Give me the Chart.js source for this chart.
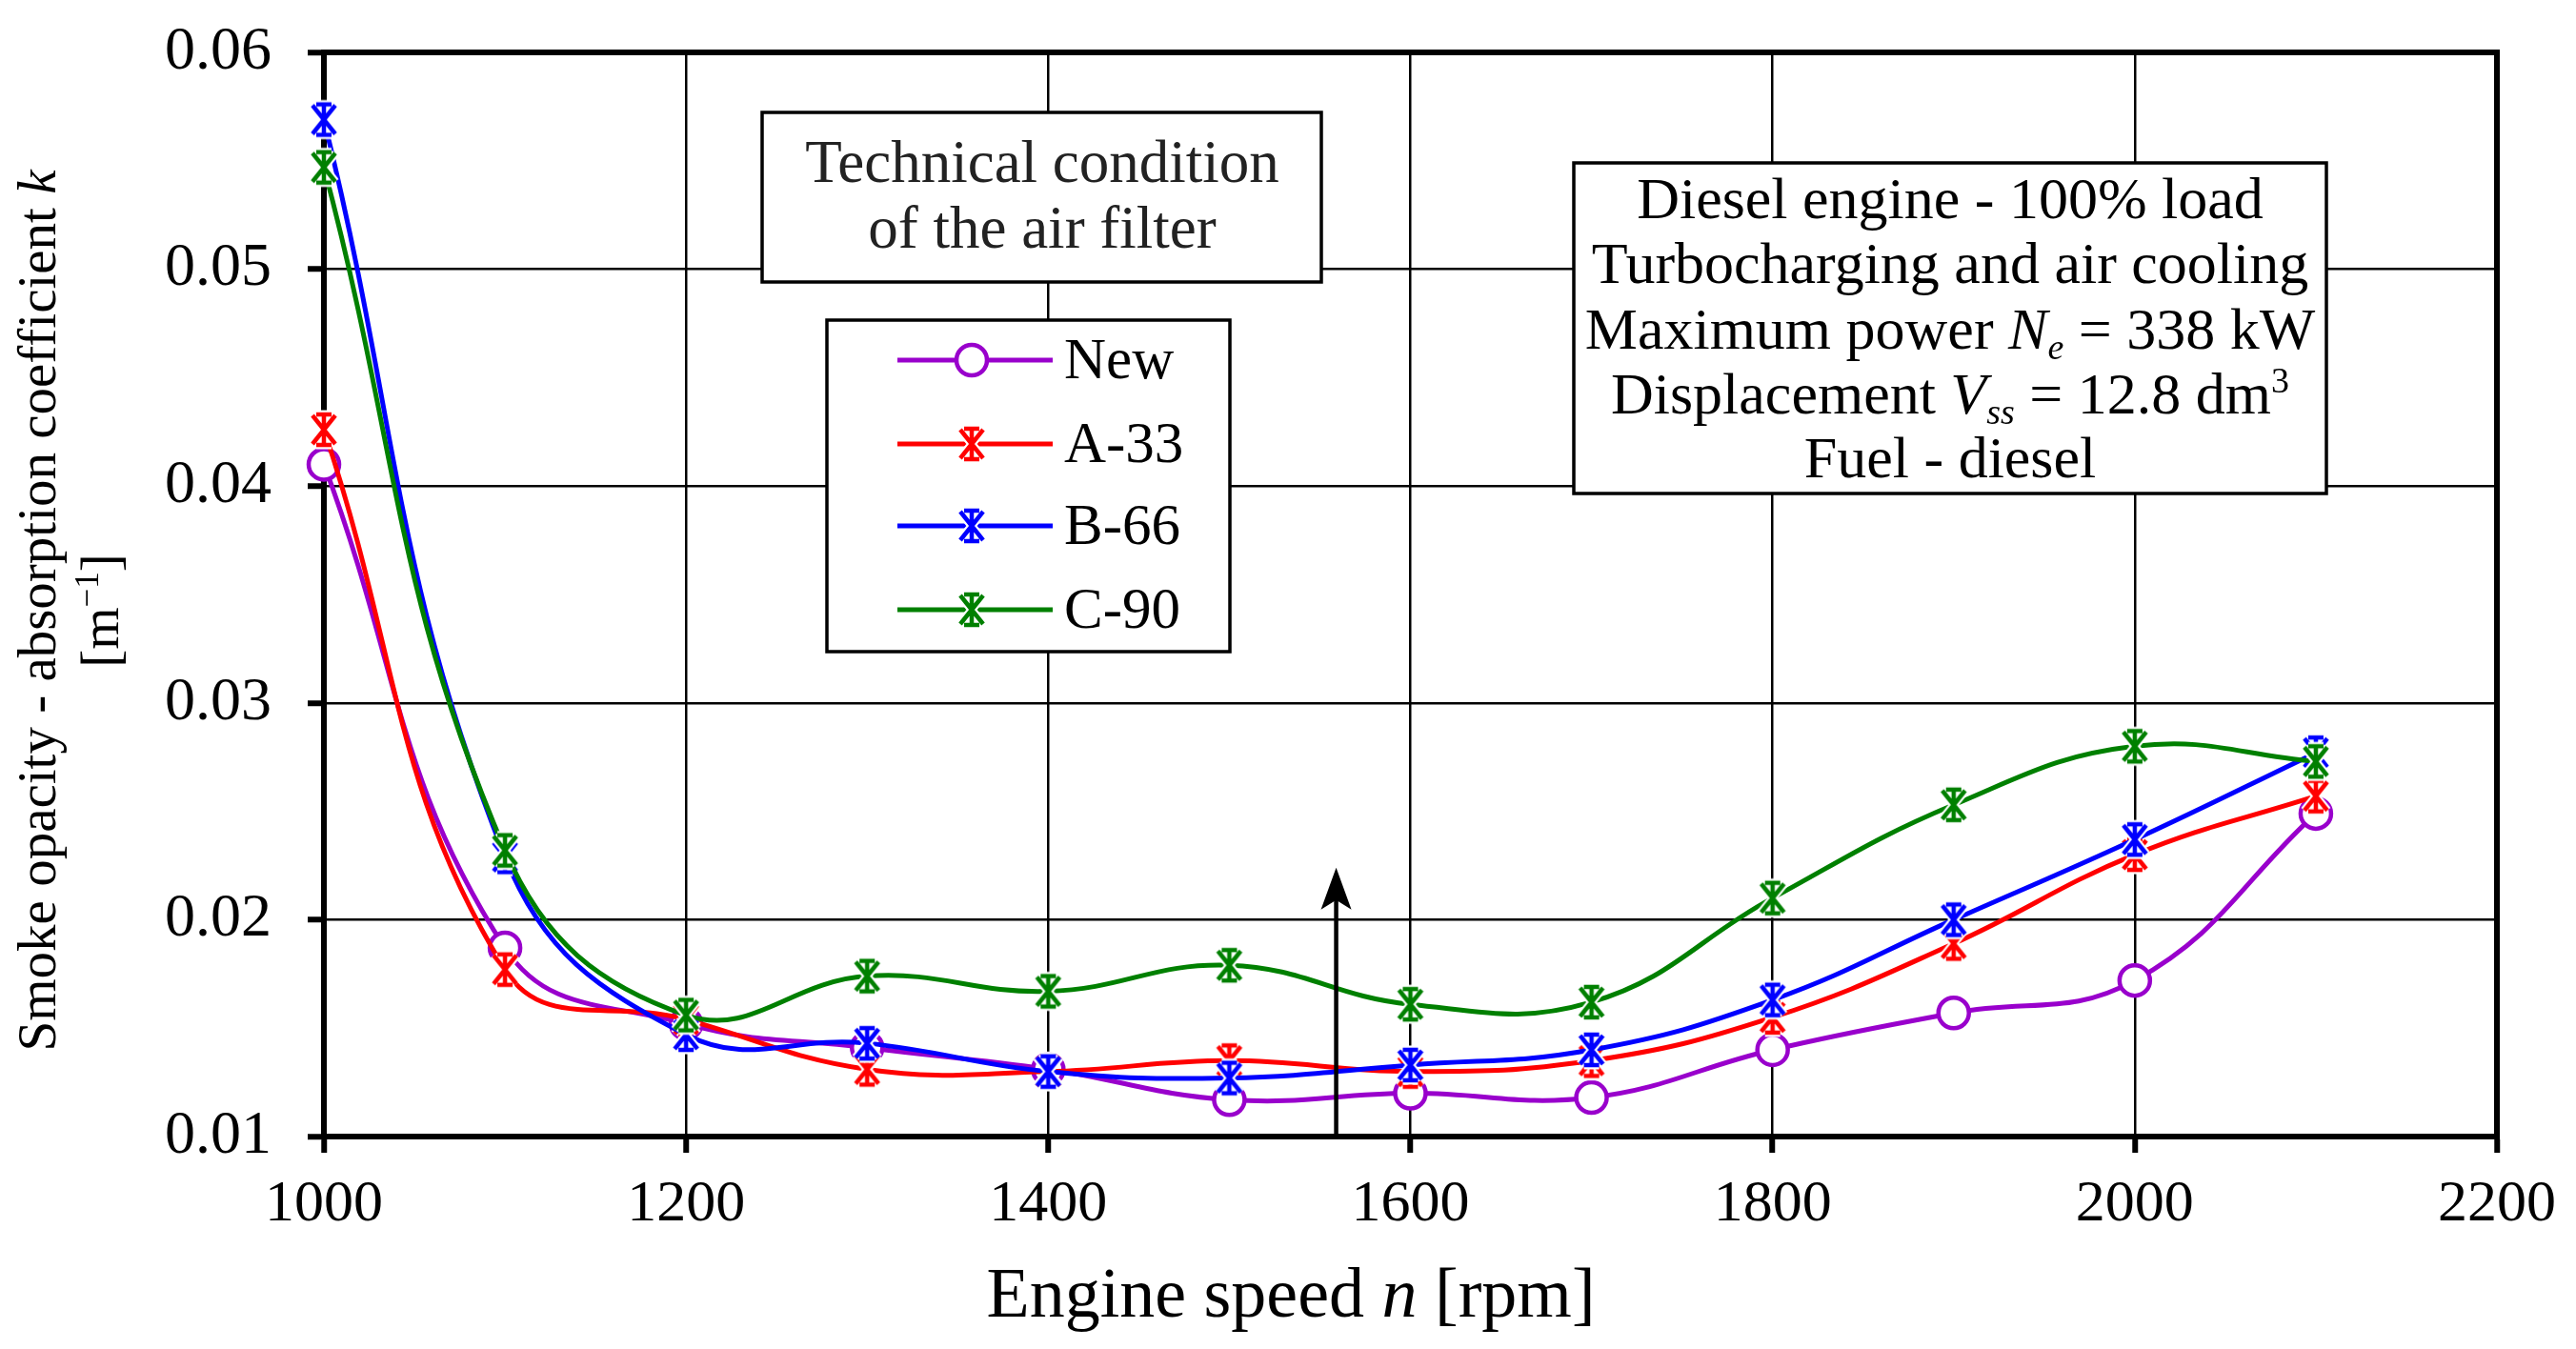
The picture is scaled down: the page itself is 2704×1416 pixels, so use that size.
<!DOCTYPE html>
<html lang="en">

<head>
    <meta charset="UTF-8">
    <style>
        body { margin: 0; background: #fff; overflow: hidden; }
        canvas { display: block; }
    </style>
</head>

<body>
    <script src="https://cdn.jsdelivr.net/npm/chart.js@4.4.1/dist/chart.umd.min.js"></script>
    <canvas id="smoke-chart" width="2704" height="1416"></canvas>
</body>
<script>
    // engine speed [rpm]
    var speed = [1000, 1100, 1200, 1300, 1400, 1500, 1600, 1700, 1800, 1900, 2000, 2100];
    // smoke opacity k [1/m] for each air filter condition
    var filterNew = [0.0410, 0.0187, 0.0152, 0.0141, 0.0131, 0.0117, 0.0120, 0.0118, 0.0140, 0.0157, 0.0172, 0.0249];
    var filterA33 = [0.0426, 0.0177, 0.0154, 0.0131, 0.0130, 0.0135, 0.0130, 0.0135, 0.0155, 0.0189, 0.0230, 0.0257];
    var filterB66 = [0.0569, 0.0229, 0.0147, 0.0143, 0.0130, 0.0127, 0.0133, 0.0140, 0.0163, 0.0200, 0.0237, 0.0277];
    var filterC90 = [0.0547, 0.0232, 0.0156, 0.0174, 0.0167, 0.0179, 0.0161, 0.0162, 0.0210, 0.0253, 0.0280, 0.0273];
    var seriesLabels = ["New", "A-33", "B-66", "C-90"];
    var xTicks = [1000, 1200, 1400, 1600, 1800, 2000, 2200];
    var yTicks = [0.01, 0.02, 0.03, 0.04, 0.05, 0.06];
    // arrow annotation (rpm, k from, k to)
    var arrowSpeed = 1559;
    var arrowFrom = 0.01;
    var arrowTo = 0.0224;

    var FONT = "'Liberation Serif', 'Times New Roman', serif";
    var colors = ["#9900CC", "#FF0000", "#0000FF", "#008000"];

    // excel-like star marker: X + vertical line with caps
    function starMarker(color) {
        var c = document.createElement("canvas");
        c.width = 44; c.height = 44;
        var g = c.getContext("2d");
        g.translate(22, 22);
        function shape() {
            g.beginPath();
            g.moveTo(-12, -15); g.lineTo(12, 15);
            g.moveTo(12, -15); g.lineTo(-12, 15);
            g.moveTo(0, -17); g.lineTo(0, 17);
            g.moveTo(-8, -16); g.lineTo(8, -16);
            g.moveTo(-8, 16); g.lineTo(8, 16);
            g.stroke();
        }
        g.lineCap = "butt";
        g.strokeStyle = "#fff"; g.lineWidth = 9; shape();
        g.strokeStyle = color; g.lineWidth = 4.5; shape();
        return c;
    }

    function pts(arr) {
        var out = [];
        for (var i = 0; i < speed.length; i++) out.push({ x: speed[i], y: arr[i] });
        return out;
    }

    var markers = ["circle", starMarker(colors[1]), starMarker(colors[2]), starMarker(colors[3])];
    var values = [filterNew, filterA33, filterB66, filterC90];
    var datasets = [];
    for (var s = 0; s < 4; s++) {
        datasets.push({
            label: seriesLabels[s],
            data: pts(values[s]),
            borderColor: colors[s],
            backgroundColor: "#fff",
            borderWidth: 5,
            pointStyle: markers[s],
            pointRadius: 16,
            pointBorderWidth: 4.5,
            pointBorderColor: colors[s],
            pointBackgroundColor: "#fff",
            tension: 0.42,
            clip: false,
            order: 4 - s
        });
    }

    // text made of runs: [text, style]  style: "", "i", "sub", "isub", "sup"
    function runFont(st, size) {
        var small = (st === "sub" || st === "isub" || st === "sup");
        var it = (st === "i" || st === "isub");
        return (it ? "italic " : "") + Math.round(small ? size * 0.62 : size) + "px " + FONT;
    }
    function richWidth(ctx, runs, size) {
        var w = 0;
        runs.forEach(function (r) {
            ctx.font = runFont(r[1], size);
            w += ctx.measureText(r[0]).width;
        });
        return w;
    }
    function drawRich(ctx, runs, cx, baseY, size, color) {
        var x = cx - richWidth(ctx, runs, size) / 2;
        ctx.fillStyle = color;
        ctx.textAlign = "left";
        ctx.textBaseline = "alphabetic";
        runs.forEach(function (r) {
            ctx.font = runFont(r[1], size);
            var dy = 0;
            if (r[1] === "sub" || r[1] === "isub") dy = size * 0.18;
            if (r[1] === "sup") dy = -size * 0.36;
            ctx.fillText(r[0], x, baseY + dy);
            x += ctx.measureText(r[0]).width;
        });
    }

    function box(ctx, x0, y0, x1, y1) {
        ctx.fillStyle = "#fff";
        ctx.fillRect(x0, y0, x1 - x0, y1 - y0);
        ctx.strokeStyle = "#000";
        ctx.lineWidth = 3.5;
        ctx.strokeRect(x0, y0, x1 - x0, y1 - y0);
    }

    var framePlugin = {
        id: "frame",
        beforeDatasetsDraw: function (chart) {
            var a = chart.chartArea, ctx = chart.ctx;
            ctx.save();
            ctx.strokeStyle = "#000";
            ctx.lineWidth = 6;
            ctx.beginPath();
            ctx.moveTo(a.left - 3, a.top);
            ctx.lineTo(a.right, a.top);
            ctx.lineTo(a.right, a.bottom + 3);
            ctx.stroke();
            ctx.restore();
        }
    };

    var notesPlugin = {
        id: "notes",
        afterDatasetsDraw: function (chart) {
            var ctx = chart.ctx;
            var xs = chart.scales.x, ys = chart.scales.y;
            ctx.save();

            // arrow
            var ax = xs.getPixelForValue(arrowSpeed);
            var ay0 = ys.getPixelForValue(arrowFrom);
            var ay1 = ys.getPixelForValue(arrowTo);
            ctx.strokeStyle = "#000";
            ctx.lineWidth = 4.5;
            ctx.beginPath();
            ctx.moveTo(ax, ay0);
            ctx.lineTo(ax, ay1 + 32);
            ctx.stroke();
            ctx.fillStyle = "#000";
            ctx.beginPath();
            ctx.moveTo(ax, ay1);
            ctx.lineTo(ax + 16, ay1 + 44);
            ctx.lineTo(ax, ay1 + 34);
            ctx.lineTo(ax - 16, ay1 + 44);
            ctx.closePath();
            ctx.fill();

            // title box
            box(ctx, 800, 118, 1387, 296);
            drawRich(ctx, [["Technical condition", ""]], 1094, 191, 63, "#222");
            drawRich(ctx, [["of the air filter", ""]], 1094, 260, 63, "#222");

            // legend
            box(ctx, 868, 336, 1291, 684);
            var rows = [378, 466, 552, 640];
            chart.data.datasets.forEach(function (ds, i) {
                var y = rows[i];
                ctx.strokeStyle = ds.borderColor;
                ctx.lineWidth = 5;
                ctx.beginPath();
                ctx.moveTo(942, y);
                ctx.lineTo(1105, y);
                ctx.stroke();
                if (ds.pointStyle === "circle") {
                    ctx.fillStyle = "#fff";
                    ctx.lineWidth = 4.5;
                    ctx.beginPath();
                    ctx.arc(1020, y, 16, 0, Math.PI * 2);
                    ctx.fill();
                    ctx.stroke();
                } else {
                    ctx.drawImage(ds.pointStyle, 1020 - 22, y - 22);
                }
                ctx.textAlign = "left";
                ctx.textBaseline = "alphabetic";
                ctx.font = "61px " + FONT;
                ctx.fillStyle = "#000";
                ctx.fillText(ds.label, 1117, y + 19);
            });

            // engine info box
            box(ctx, 1652, 171, 2442, 518);
            var cx = 2047, fs = 62;
            drawRich(ctx, [["Diesel engine - 100% load", ""]], cx, 229, fs, "#000");
            drawRich(ctx, [["Turbocharging and air cooling", ""]], cx, 297, fs, "#000");
            drawRich(ctx, [["Maximum power ", ""], ["N", "i"], ["e", "isub"], [" = 338 kW", ""]], cx, 366, fs, "#000");
            drawRich(ctx, [["Displacement ", ""], ["V", "i"], ["ss", "isub"], [" = 12.8 dm", ""], ["3", "sup"]], cx, 434, fs, "#000");
            drawRich(ctx, [["Fuel - diesel", ""]], cx, 501, fs, "#000");

            // axis titles
            drawRich(ctx, [["Engine speed ", ""], ["n", "i"], [" [rpm]", ""]], 1355, 1382, 74, "#000");
            ctx.translate(58, 641);
            ctx.rotate(-Math.PI / 2);
            drawRich(ctx, [["Smoke opacity - absorption coefficient ", ""], ["k", "i"]], 0, 0, 57, "#000");
            ctx.rotate(Math.PI / 2);
            ctx.translate(66, 0);
            ctx.rotate(-Math.PI / 2);
            drawRich(ctx, [["[m", ""], ["\u22121", "sup"], ["]", ""]], 0, 0, 57, "#000");
            ctx.restore();
        }
    };

    var gridStyle = {
        color: "#000",
        lineWidth: 2.5,
        drawTicks: true,
        tickLength: 17,
        tickWidth: 6,
        tickColor: "#000"
    };

    var chart = new Chart(document.getElementById("smoke-chart").getContext("2d"), {
        type: "line",
        data: { datasets: datasets },
        plugins: [framePlugin, notesPlugin],
        options: {
            responsive: false,
            devicePixelRatio: 1,
            animation: false,
            layout: { padding: { left: 0, top: 55, right: 83, bottom: 0 } },
            plugins: { legend: { display: false }, tooltip: { enabled: false } },
            scales: {
                x: {
                    type: "linear",
                    min: xTicks[0],
                    max: xTicks[xTicks.length - 1],
                    afterBuildTicks: function (sc) { sc.ticks = xTicks.map(function (v) { return { value: v }; }); },
                    afterFit: function (sc) {
                        sc.height = 223;
                        sc.paddingLeft = 0; sc.paddingRight = 0;
                    },
                    grid: gridStyle,
                    border: { display: true, color: "#000", width: 6 },
                    ticks: {
                        color: "#000",
                        padding: 18,
                        maxRotation: 0,
                        font: { family: FONT, size: 62 },
                        callback: function (v) { return String(v); }
                    }
                },
                y: {
                    min: yTicks[0],
                    max: yTicks[yTicks.length - 1],
                    afterBuildTicks: function (sc) { sc.ticks = yTicks.map(function (v) { return { value: v }; }); },
                    afterFit: function (sc) {
                        sc.width = 340;
                        sc.paddingTop = 0; sc.paddingBottom = 0;
                    },
                    grid: gridStyle,
                    border: { display: true, color: "#000", width: 6 },
                    ticks: {
                        color: "#000",
                        padding: 38,
                        font: { family: FONT, size: 64 },
                        callback: function (v) { return v.toFixed(2); }
                    }
                }
            }
        }
    });
</script>

</html>
